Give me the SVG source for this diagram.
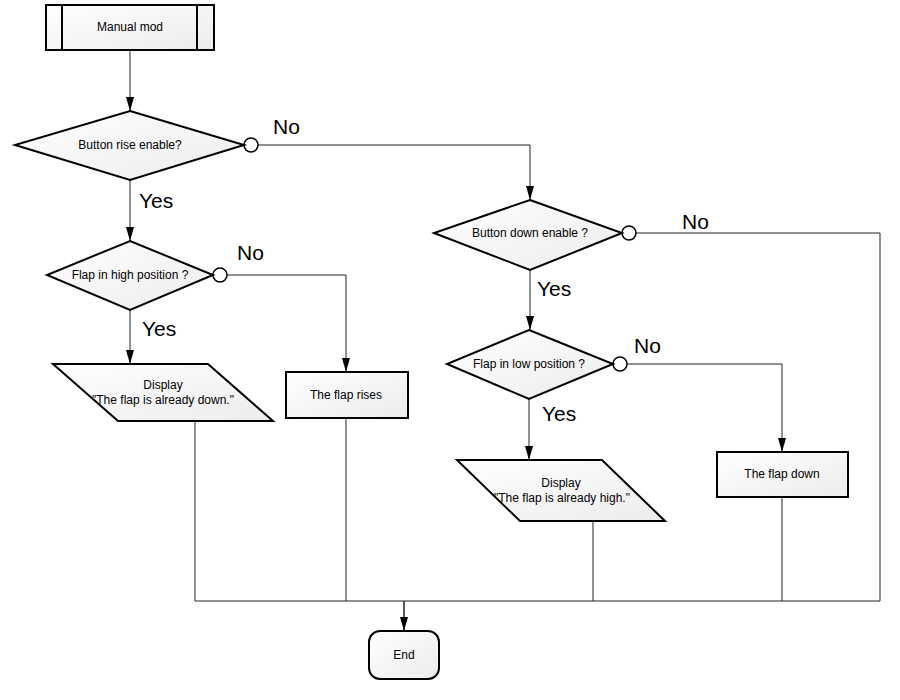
<svg xmlns="http://www.w3.org/2000/svg" width="900" height="700" viewBox="0 0 900 700">
<defs>
<linearGradient id="g" x1="0" y1="0" x2="1" y2="1">
<stop offset="0" stop-color="#ffffff"/>
<stop offset="1" stop-color="#ececec"/>
</linearGradient>
<marker id="arr" markerWidth="14" markerHeight="8" refX="14" refY="4" orient="auto" markerUnits="userSpaceOnUse" viewBox="0 0 14 8">
<path d="M0,0 L14,4 L0,8 Z" fill="#000"/>
</marker>
</defs>
<style>
.s{fill:url(#g);stroke:#000;stroke-width:2}
.c{fill:none;stroke:#222;stroke-width:1}
.o{fill:#fff;stroke:#000;stroke-width:1.5}
.t{font-family:"Liberation Sans",Arial,sans-serif;font-size:12px;fill:#000;text-anchor:middle}
.l{font-family:"Liberation Sans",Arial,sans-serif;font-size:21px;fill:#000}
</style>
<rect width="900" height="700" fill="#fff"/>
<g id="connectors">
<path class="c" d="M130,51 V111" marker-end="url(#arr)"/>
<path class="c" d="M258,145 H530 V200" marker-end="url(#arr)"/>
<path class="c" d="M130,180 V241" marker-end="url(#arr)"/>
<path class="c" d="M227,275 H346 V372" marker-end="url(#arr)"/>
<path class="c" d="M130,310 V364" marker-end="url(#arr)"/>
<path class="c" d="M636,233 H880 V601"/>
<path class="c" d="M530,270 V330" marker-end="url(#arr)"/>
<path class="c" d="M627,364 H782 V452" marker-end="url(#arr)"/>
<path class="c" d="M529,399 V460" marker-end="url(#arr)"/>
<path class="c" d="M195,421 V601 H880"/>
<path class="c" d="M346,418 V601"/>
<path class="c" d="M593,521 V601"/>
<path class="c" d="M782,497 V601"/>
<path class="c" d="M404,601 V631" marker-end="url(#arr)" style="stroke-width:1.5"/>
<circle class="o" cx="251" cy="145" r="7"/>
<circle class="o" cx="220" cy="275" r="7"/>
<circle class="o" cx="629" cy="233" r="7"/>
<circle class="o" cx="620" cy="364" r="7"/>
<text class="l" x="273" y="134">No</text>
<text class="l" x="139" y="208">Yes</text>
<text class="l" x="237" y="260">No</text>
<text class="l" x="142" y="336">Yes</text>
<text class="l" x="682" y="229">No</text>
<text class="l" x="537" y="296">Yes</text>
<text class="l" x="634" y="353">No</text>
<text class="l" x="542" y="421">Yes</text>
</g>
<g id="start">
<rect class="s" x="46" y="5" width="168" height="45"/>
<line x1="62" y1="5" x2="62" y2="50" stroke="#000" stroke-width="2"/>
<line x1="197" y1="5" x2="197" y2="50" stroke="#000" stroke-width="2"/>
<text class="t" x="130" y="31">Manual mod</text>
</g>
<g id="d1">
<polygon class="s" points="130,111 244,145 130,180 15,145"/>
<text class="t" x="130" y="149">Button rise enable?</text>
</g>
<g id="d2">
<polygon class="s" points="130,241 213,275 130,310 47,275"/>
<text class="t" x="130" y="279">Flap in high position ?</text>
</g>
<g id="disp1">
<polygon class="s" points="53,364 208,364 273,421 118,421"/>
<text class="t" x="163" y="389">Display</text>
<text class="t" x="163" y="404">"The flap is already down."</text>
</g>
<g id="rises">
<rect class="s" x="286" y="372" width="122" height="46"/>
<text class="t" x="346" y="399">The flap rises</text>
</g>
<g id="d3">
<polygon class="s" points="530,200 622,233 530,270 434,233"/>
<text class="t" x="530" y="237">Button down enable ?</text>
</g>
<g id="d4">
<polygon class="s" points="529,330 613,364 529,399 447,364"/>
<text class="t" x="529" y="368">Flap in low position ?</text>
</g>
<g id="disp2">
<polygon class="s" points="457,460 602,460 665,521 520,521"/>
<text class="t" x="561" y="487">Display</text>
<text class="t" x="562" y="502">"The flap is already high."</text>
</g>
<g id="down">
<rect class="s" x="717" y="452" width="131" height="45"/>
<text class="t" x="782" y="478">The flap down</text>
</g>
<g id="end">
<rect class="s" x="369" y="631" width="70" height="48" rx="11"/>
<text class="t" x="404" y="659">End</text>
</g>
</svg>
